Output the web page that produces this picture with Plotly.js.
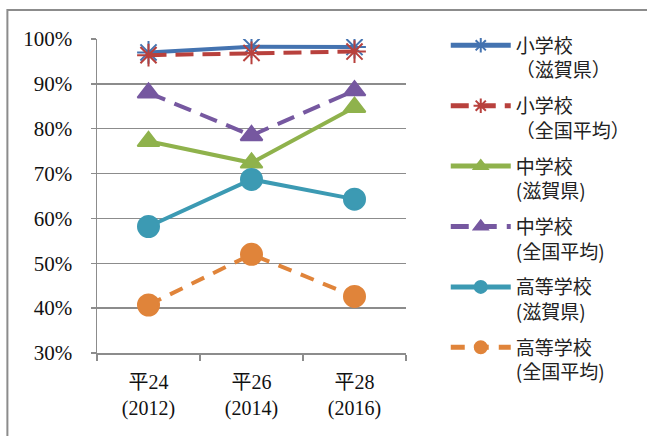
<!DOCTYPE html>
<html><head><meta charset="utf-8">
<script src="https://cdn.plot.ly/plotly-3.0.1.min.js"></script>
<style>html,body{margin:0;padding:0;background:#fff}#chart{width:647px;height:436px}</style>
</head><body><div id="chart"></div>
<script>
const categories = ["平24<br>(2012)", "平26<br>(2014)", "平28<br>(2016)"];
const seriesNames = [
  "小学校<br>（滋賀県）",
  "小学校<br>（全国平均）",
  "中学校<br>(滋賀県)",
  "中学校<br>(全国平均)",
  "高等学校<br>(滋賀県)",
  "高等学校<br>(全国平均)"
];
const elemShiga = [97.0, 98.3, 98.2];
const elemNational = [96.4, 96.9, 97.2];
const juniorShiga = [77.2, 72.4, 84.8];
const juniorNational = [88.0, 78.5, 88.5];
const highShiga = [58.2, 68.7, 64.3];
const highNational = [40.7, 52.0, 42.6];
const yTickVals = [30, 40, 50, 60, 70, 80, 90, 100];
const yTickText = yTickVals.map(v => v + "%");

const seriesValues = [elemShiga, elemNational, juniorShiga, juniorNational, highShiga, highNational];
const styles = [
  {color:"#4473B0", dash:"solid", symbol:"asterisk-open", size:19},
  {color:"#B8413D", dash:"18px,9px", symbol:"asterisk-open", size:19},
  {color:"#8FB24C", dash:"solid", symbol:"triangle-up", size:19},
  {color:"#7658A0", dash:"18px,10px", symbol:"triangle-up", size:19},
  {color:"#3C9AB3", dash:"solid", symbol:"circle", size:21},
  {color:"#E0843A", dash:"14px,10px", symbol:"circle", size:21}
];
const traces = seriesValues.map((vals, i) => ({
  type:"scatter", mode:"lines+markers",
  x: categories, y: vals, name: seriesNames[i], legendgroup: "g" + i,
  line:{color:styles[i].color, width:4, dash:styles[i].dash},
  marker:{color:styles[i].color, symbol:styles[i].symbol, size:styles[i].size,
          line:{color:styles[i].color, width:2}},
  hoverinfo:"skip"
}));

const layout = {
  width:647, height:436,
  margin:{l:97, r:240, t:39, b:83},
  paper_bgcolor:"#fff", plot_bgcolor:"#fff",
  showlegend:true,
  legend:{x:1.125, y:1.04, xanchor:"left", yanchor:"top", valign:"top",
          font:{family:"Noto Sans CJK JP, sans-serif", size:19, color:"#222"},
          itemsizing:"constant", itemwidth:60, tracegroupgap:8, maxheight:430,
          bgcolor:"rgba(0,0,0,0)"},
  xaxis:{type:"category", range:[-0.5, 2.5], showgrid:false,
         showline:true, linecolor:"#8c8c8c", linewidth:1.5,
         ticks:"outside", tickson:"boundaries", ticklen:6, tickcolor:"#8c8c8c", tickwidth:1.5,
         tickfont:{family:"Liberation Serif, Noto Sans CJK JP, serif", size:20, color:"#111"},
         ticklabelstandoff:10, fixedrange:true},
  yaxis:{range:[30, 100], tickvals:yTickVals, ticktext:yTickText,
         showgrid:true, gridcolor:"#8c8c8c", gridwidth:1.5, zeroline:false,
         showline:true, linecolor:"#8c8c8c", linewidth:1.5,
         ticks:"outside", ticklen:5, tickcolor:"#8c8c8c", tickwidth:1.5,
         tickfont:{family:"Liberation Serif, serif", size:21, color:"#111"},
         ticklabelstandoff:14, fixedrange:true},
  shapes:[{type:"rect", xref:"paper", yref:"paper",
           x0:-0.29, x1:2, y0:-1, y1:1.092,
           line:{color:"#8c8c8c", width:2}, fillcolor:"rgba(0,0,0,0)", layer:"below"}]
};
Plotly.newPlot("chart", traces, layout, {displayModeBar:false, staticPlot:true});
</script></body></html>
